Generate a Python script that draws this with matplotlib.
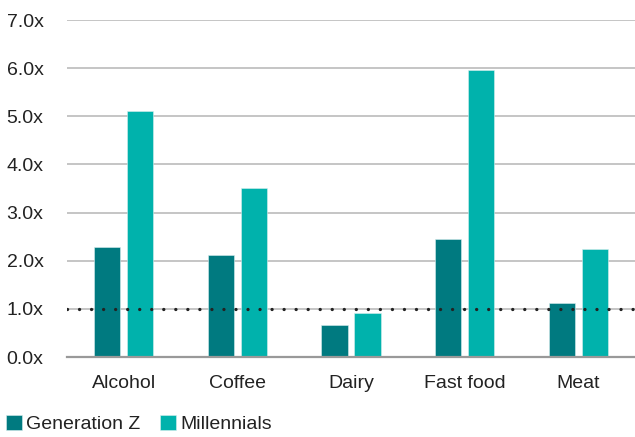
import matplotlib
matplotlib.use("Agg")
import matplotlib.pyplot as plt
import numpy as np

categories = ["Alcohol", "Coffee", "Dairy", "Fast food", "Meat"]
gen_z = [2.29, 2.13, 0.67, 2.46, 1.13]
millennials = [5.12, 3.51, 0.92, 5.97, 2.25]
y_ticks = [0, 1, 2, 3, 4, 5, 6, 7]
y_labels = ["%.1fx" % v for v in y_ticks]

c_genz = "#007A80"
c_mill = "#00B2AC"

plt.rcParams['font.family'] = ['Liberation Sans', 'DejaVu Sans']

fig = plt.figure(figsize=(6.35, 4.37), dpi=100)
ax = fig.add_axes([0.1055, 0.183, 0.8945, 0.771])

x = np.arange(len(categories))
w = 0.23
off = 0.145
ax.bar(x - off, gen_z, w, color=c_genz, edgecolor="#d8eeee", linewidth=0.4,
       label="Generation Z", zorder=3)
ax.bar(x + off, millennials, w, color=c_mill, edgecolor="#d8eeee", linewidth=0.4,
       label="Millennials", zorder=3)

# reference line at 1.0x
ax.axhline(1.0, color="#222222", linewidth=2.4, dashes=(0.01, 3.6),
           dash_capstyle="round", zorder=4)

ax.set_xlim(-0.5, len(categories) - 0.5)
ax.set_ylim(0, 7)
ax.set_yticks(y_ticks)
ax.set_yticklabels(y_labels)
ax.set_xticks(x)
ax.set_xticklabels(categories)
ax.grid(axis="y", color="#bbbbbb", linewidth=1.2, zorder=0)
ax.tick_params(axis="both", length=0, labelsize=14, colors="#222222")
ax.tick_params(axis="y", pad=17)
ax.tick_params(axis="x", pad=13)
for s in ["top", "right", "left"]:
    ax.spines[s].set_visible(False)
ax.spines["bottom"].set_color("#999999")
ax.spines["bottom"].set_linewidth(1.6)
ax.spines["bottom"].set_zorder(5)

fig.legend(loc="lower left", bbox_to_anchor=(0.0, -0.005), ncol=2, frameon=False,
           fontsize=14, handlelength=0.85, handleheight=0.85, handletextpad=0.2,
           columnspacing=1.0, borderaxespad=0.0, borderpad=0.3,
           labelcolor="#222222")

fig.savefig("out.png", dpi=100)
